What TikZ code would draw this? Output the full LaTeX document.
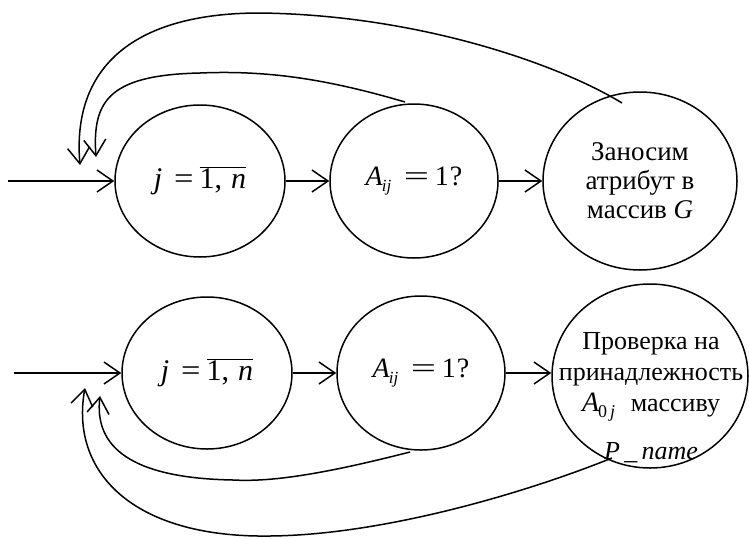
\documentclass[tikz,border=0pt]{standalone}
\usepackage{fontspec}
\usepackage{graphicx}
\setmainfont{Liberation Serif}
\usetikzlibrary{shapes.geometric,arrows.meta}
\newcommand{\jn}{\textit{j}\hspace{0.4em}\scalebox{1.15}[1]{=}\hspace{0.2em}$\overline{\hbox{1,\hspace{0.3em}\textit{n}}}$}
\newcommand{\aij}{\textit{A}\kern-1pt\raisebox{-6pt}{\fontsize{17}{17}\selectfont\textit{ij}}\hspace{0.45em}\scalebox{1.6}[1]{=}\hspace{0.2em}1\kern1pt?}
\begin{document}
\begin{tikzpicture}[x=1pt,y=-1pt,line width=1.5pt,
  state/.style={draw,ellipse,inner sep=0pt,align=center},
  arr/.style={-{Straight Barb[length=16pt,width=22pt]}},
  mathtxt/.style={font=\fontsize{30}{34}\selectfont},
  mtxt/.style={font=\fontsize{28}{32}\selectfont},
  rutxt/.style={font=\fontsize{27}{29}\selectfont}]
\useasboundingbox (0,0) rectangle (749,538);
% top row
\node[state,minimum width=170pt,minimum height=152pt,mathtxt] (t1) at (200,181) {\jn};
\node[state,minimum width=168pt,minimum height=154pt,mtxt] (t2) at (414,181) {\aij};
\node[state,minimum width=194pt,minimum height=178pt,rutxt] (t3) at (640,181) {Заносим\\атрибут в\\массив \textit{G}};
\coordinate (tin) at (8,181);
\draw[arr] (tin) -- (t1);
\draw[arr] (t1) -- (t2);
\draw[arr] (t2) -- (t3);
\coordinate (to1) at (622,103);
\coordinate (tt1) at (80,165);
\coordinate (to2) at (405,102);
\coordinate (tt2) at (96,157);
\draw[arr] (to1) .. controls (560,65) and (420,15) .. (260,13) .. controls (130,13) and (72,70) .. (tt1);
\draw[arr] (to2) .. controls (330,80) and (270,70) .. (200,73) .. controls (110,75) and (92,100) .. (tt2);
% bottom row
\node[state,minimum width=170pt,minimum height=152pt,mathtxt] (b1) at (207,373) {\jn};
\node[state,minimum width=168pt,minimum height=154pt,mtxt] (b2) at (421,373) {\aij};
\node[state,minimum width=196pt,minimum height=184pt] (b3) at (650,376) {};
\node[inner sep=0pt,anchor=north,align=center,font=\fontsize{26}{29}\selectfont] (b3t) at (651,332)
  {Проверка на\\[2pt]принадлежность\\[2pt]\textit{\fontsize{28}{29}\selectfont A}\kern-1pt\raisebox{-6pt}{\fontsize{18}{18}\selectfont 0\,\textit{j}}\hspace{0.6em}массиву\\[19pt]\textit{P\,\_\,name}};
\coordinate (bin) at (14,373);
\draw[arr] (bin) -- (b1);
\draw[arr] (b1) -- (b2);
\draw[arr] (b2.east) -- (b2.east -| b3.west);
\coordinate (bo1) at (612,458);
\coordinate (bt1) at (85,388);
\coordinate (bo2) at (410,452);
\coordinate (bt2) at (100,396);
\draw[arr] (bo1) .. controls (520,495) and (380,535) .. (270,536) .. controls (130,538) and (70,470) .. (bt1);
\draw[arr] (bo2) .. controls (320,475) and (270,482) .. (233,480) .. controls (120,478) and (95,440) .. (bt2);
\end{tikzpicture}
\end{document}
